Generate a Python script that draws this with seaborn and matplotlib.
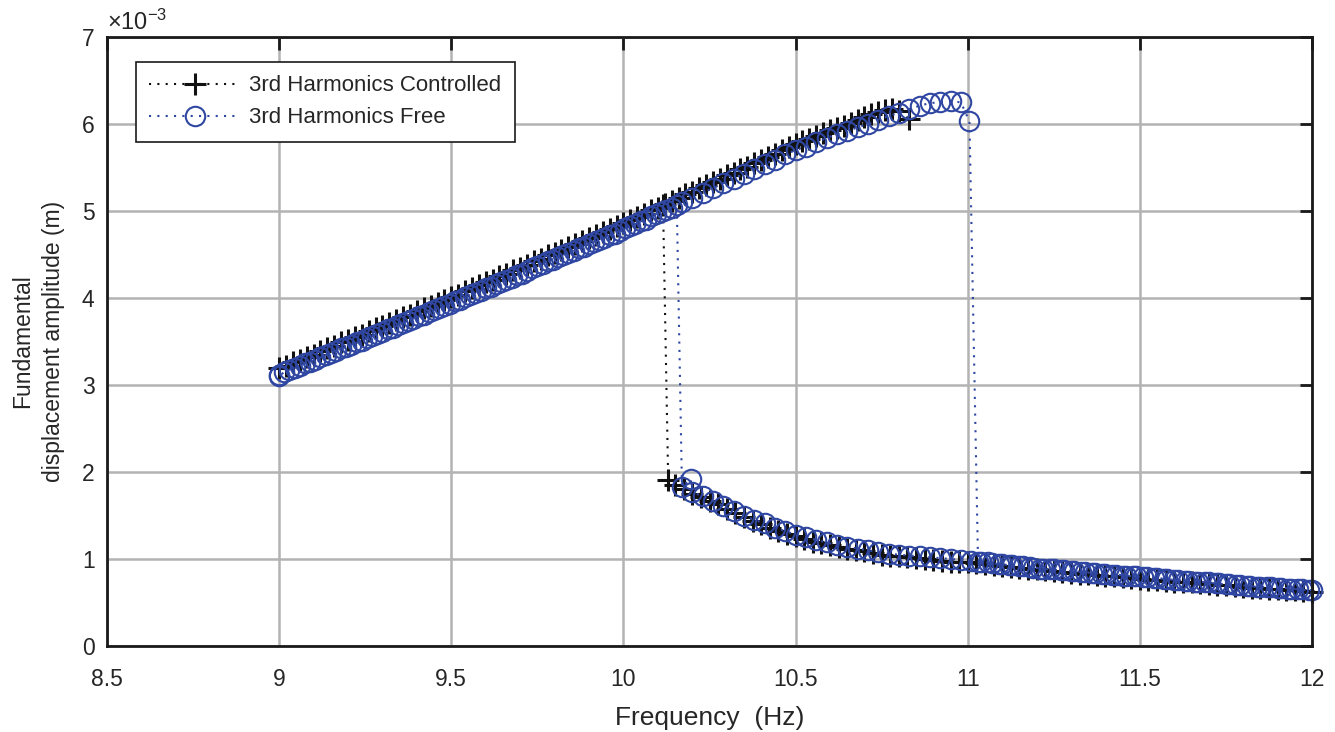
import matplotlib
matplotlib.use("Agg")
import matplotlib.pyplot as plt
from matplotlib.lines import Line2D
import seaborn as sns
import pandas as pd

# ---------------- data (amplitude in units of 1e-3 m) ----------------
# Controlled: sweep up along the upper branch
ctrl_up_freq = [9.00, 9.02, 9.04, 9.06, 9.08, 9.10, 9.12, 9.14, 9.16, 9.18, 9.20, 9.22, 9.24, 9.26,
                9.28, 9.30, 9.32, 9.34, 9.36, 9.38, 9.40, 9.42, 9.44, 9.46, 9.48, 9.50, 9.52, 9.54,
                9.56, 9.58, 9.60, 9.62, 9.64, 9.66, 9.68, 9.70, 9.72, 9.74, 9.76, 9.78, 9.80, 9.82,
                9.84, 9.86, 9.88, 9.90, 9.92, 9.94, 9.96, 9.98, 10.00, 10.02, 10.04, 10.06, 10.08,
                10.10, 10.12, 10.14, 10.16, 10.18, 10.20, 10.22, 10.24, 10.26, 10.28, 10.30, 10.32,
                10.34, 10.36, 10.38, 10.40, 10.42, 10.44, 10.46, 10.48, 10.50, 10.52, 10.54, 10.56,
                10.58, 10.60, 10.62, 10.64, 10.66, 10.68, 10.70, 10.72, 10.74, 10.76, 10.78, 10.80,
                10.83]
ctrl_up_amp = [3.19, 3.22, 3.26, 3.29, 3.32, 3.35, 3.39, 3.42, 3.45, 3.49, 3.52, 3.55, 3.58, 3.62,
               3.65, 3.68, 3.71, 3.75, 3.78, 3.81, 3.85, 3.88, 3.91, 3.94, 3.98, 4.01, 4.04, 4.08,
               4.11, 4.15, 4.18, 4.21, 4.25, 4.28, 4.32, 4.35, 4.38, 4.42, 4.45, 4.49, 4.52, 4.55,
               4.59, 4.62, 4.66, 4.69, 4.72, 4.76, 4.79, 4.83, 4.86, 4.90, 4.93, 4.97, 5.01,
               5.04, 5.08, 5.11, 5.15, 5.19, 5.22, 5.26, 5.30, 5.33, 5.37, 5.41, 5.44,
               5.48, 5.51, 5.55, 5.59, 5.62, 5.66, 5.70, 5.73, 5.77, 5.80, 5.83, 5.86,
               5.90, 5.93, 5.95, 5.98, 6.01, 6.05, 6.08, 6.11, 6.14, 6.16, 6.17, 6.15,
               6.06]

# Controlled: sweep down along the lower branch, then jump up
ctrl_down_freq = [12.000, 11.975, 11.950, 11.925, 11.900, 11.875, 11.850, 11.825, 11.800, 11.775,
                  11.750, 11.725, 11.700, 11.675, 11.650, 11.625, 11.600, 11.575, 11.550, 11.525,
                  11.500, 11.475, 11.450, 11.425, 11.400, 11.375, 11.350, 11.325, 11.300, 11.275,
                  11.250, 11.225, 11.200, 11.175, 11.150, 11.125, 11.100, 11.075, 11.050, 11.025,
                  11.000, 10.975, 10.950, 10.925, 10.900, 10.875, 10.850, 10.825, 10.800, 10.775,
                  10.750, 10.725, 10.700, 10.675, 10.650, 10.625, 10.600, 10.575, 10.550, 10.525,
                  10.500, 10.475, 10.450, 10.425, 10.400, 10.375, 10.350, 10.325, 10.300, 10.275,
                  10.250, 10.225, 10.200, 10.175, 10.150, 10.130, 10.115]
ctrl_down_amp = [0.62, 0.63, 0.64, 0.64, 0.65, 0.66, 0.67, 0.67, 0.68, 0.69,
                 0.70, 0.70, 0.71, 0.72, 0.73, 0.73, 0.74, 0.75, 0.76, 0.76,
                 0.77, 0.78, 0.79, 0.80, 0.81, 0.82, 0.83, 0.83, 0.84, 0.85,
                 0.86, 0.87, 0.88, 0.89, 0.90, 0.91, 0.92, 0.93, 0.94, 0.95,
                 0.96, 0.96, 0.97, 0.98, 0.99, 1.00, 1.01, 1.02, 1.03, 1.04,
                 1.05, 1.07, 1.09, 1.10, 1.12, 1.14, 1.16, 1.18, 1.20, 1.23,
                 1.26, 1.29, 1.32, 1.36, 1.40, 1.44, 1.48, 1.53, 1.58, 1.63,
                 1.67, 1.71, 1.75, 1.80, 1.85, 1.91, 5.07]

# Free: sweep up along the upper branch, jump down, continue on lower branch
free_up_freq = [9.00, 9.03, 9.06, 9.09, 9.12, 9.15, 9.18, 9.21, 9.24, 9.27, 9.30, 9.33, 9.36, 9.39,
                9.42, 9.45, 9.48, 9.51, 9.54, 9.57, 9.60, 9.63, 9.66, 9.69, 9.72, 9.75, 9.78, 9.81,
                9.84, 9.87, 9.90, 9.93, 9.96, 9.99, 10.02, 10.05, 10.08, 10.11, 10.14, 10.17, 10.20,
                10.23, 10.26, 10.29, 10.32, 10.35, 10.38, 10.41, 10.44, 10.47, 10.50, 10.53, 10.56,
                10.59, 10.62, 10.65, 10.68, 10.71, 10.74, 10.77, 10.80, 10.83, 10.86, 10.89, 10.92,
                10.95, 10.98, 11.005,
                11.03, 11.06, 11.09, 11.12, 11.15, 11.18, 11.21, 11.24, 11.27, 11.30, 11.33, 11.36,
                11.39, 11.42, 11.45, 11.48, 11.51, 11.54, 11.57, 11.60, 11.63, 11.66, 11.69, 11.72,
                11.75, 11.78, 11.81, 11.84, 11.87, 11.90, 11.93, 11.96, 11.99]
free_up_amp = [3.12, 3.17, 3.22, 3.27, 3.32, 3.37, 3.42, 3.46, 3.51, 3.56, 3.61, 3.66, 3.71, 3.76,
               3.81, 3.86, 3.91, 3.96, 4.01, 4.06, 4.11, 4.16, 4.21, 4.26, 4.31, 4.37, 4.42, 4.47,
               4.52, 4.57, 4.62, 4.67, 4.72, 4.77, 4.83, 4.88, 4.94, 4.99, 5.04, 5.10, 5.15,
               5.21, 5.26, 5.32, 5.37, 5.43, 5.48, 5.54, 5.59, 5.65, 5.70, 5.74, 5.79,
               5.84, 5.88, 5.92, 5.96, 6.00, 6.05, 6.09, 6.13, 6.17, 6.21, 6.24, 6.25,
               6.26, 6.25, 6.03,
               0.97, 0.96, 0.94, 0.93, 0.92, 0.91, 0.89, 0.88, 0.87, 0.86, 0.85, 0.84,
               0.83, 0.82, 0.81, 0.80, 0.79, 0.78, 0.77, 0.76, 0.75, 0.74, 0.73, 0.72,
               0.71, 0.70, 0.69, 0.68, 0.68, 0.67, 0.66, 0.65, 0.64]

# Free: sweep down along the lower branch, jump up, continue on upper branch
free_down_freq = [12.00, 11.97, 11.94, 11.91, 11.88, 11.85, 11.82, 11.79, 11.76, 11.73, 11.70, 11.67,
                  11.64, 11.61, 11.58, 11.55, 11.52, 11.49, 11.46, 11.43, 11.40, 11.37, 11.34, 11.31,
                  11.28, 11.25, 11.22, 11.19, 11.16, 11.13, 11.10, 11.07, 11.04, 11.01, 10.98, 10.95,
                  10.92, 10.89, 10.86, 10.83, 10.80, 10.77, 10.74, 10.71, 10.68, 10.65, 10.62, 10.59,
                  10.56, 10.53, 10.50, 10.47, 10.44, 10.41, 10.38, 10.35, 10.32, 10.29, 10.26, 10.23,
                  10.20, 10.195, 10.17,
                  10.155, 10.125, 10.095, 10.065, 10.035, 10.005, 9.975, 9.945, 9.915, 9.885, 9.855,
                  9.825, 9.795, 9.765, 9.735, 9.705, 9.675, 9.645, 9.615, 9.585, 9.555, 9.525, 9.495,
                  9.465, 9.435, 9.405, 9.375, 9.345, 9.315, 9.285, 9.255, 9.225, 9.195, 9.165, 9.135,
                  9.105, 9.075, 9.045, 9.015, 9.000]
free_down_amp = [0.64, 0.65, 0.66, 0.67, 0.68, 0.68, 0.69, 0.70, 0.71, 0.72, 0.73, 0.74,
                 0.75, 0.76, 0.77, 0.78, 0.79, 0.80, 0.81, 0.82, 0.83, 0.84, 0.85, 0.86,
                 0.87, 0.88, 0.89, 0.90, 0.92, 0.93, 0.94, 0.95, 0.97, 0.98, 0.99, 1.00,
                 1.01, 1.02, 1.03, 1.04, 1.05, 1.06, 1.08, 1.10, 1.12, 1.14, 1.16, 1.19,
                 1.22, 1.25, 1.28, 1.32, 1.36, 1.41, 1.45, 1.50, 1.55, 1.61, 1.67, 1.72,
                 1.77, 1.92, 1.83,
                 5.07, 5.01, 4.96, 4.90, 4.85, 4.80, 4.74, 4.69, 4.64, 4.59, 4.54,
                 4.49, 4.44, 4.39, 4.34, 4.28, 4.23, 4.18, 4.13, 4.08, 4.03, 3.98, 3.93,
                 3.89, 3.84, 3.79, 3.74, 3.69, 3.64, 3.59, 3.54, 3.49, 3.44, 3.39, 3.34,
                 3.29, 3.25, 3.20, 3.15, 3.10]

series_labels = ["3rd Harmonics Controlled", "3rd Harmonics Free"]
x_ticks = [8.5, 9, 9.5, 10, 10.5, 11, 11.5, 12]
x_tick_labels = ["8.5", "9", "9.5", "10", "10.5", "11", "11.5", "12"]
y_ticks = [0, 1, 2, 3, 4, 5, 6, 7]
y_tick_labels = ["0", "1", "2", "3", "4", "5", "6", "7"]

# ---------------- styling ----------------
sns.set_style("white")
plt.rcParams["font.family"] = ["Liberation Sans", "DejaVu Sans"]
plt.rcParams["mathtext.fontset"] = "custom"
plt.rcParams["mathtext.rm"] = "Liberation Sans"

TXT = "#262626"
SPINE = "#1a1a1a"
BLACK = "#111111"
BLUE = "#2f47a2"
GRID = "#b3b3b3"

C_MS, C_MEW = 15.5, 2.2
F_MS, F_MEW = 14.0, 1.5
LW = 1.5

fig = plt.figure(figsize=(13.35, 7.32), dpi=100)
ax = fig.add_axes([107 / 1335, 86 / 732, 1205 / 1335, 609 / 732])

ctrl_df = pd.DataFrame({
    "freq": ctrl_up_freq + ctrl_down_freq,
    "amp": ctrl_up_amp + ctrl_down_amp,
    "sweep": ["up"] * len(ctrl_up_freq) + ["down"] * len(ctrl_down_freq),
})
free_df = pd.DataFrame({
    "freq": free_up_freq + free_down_freq,
    "amp": free_up_amp + free_down_amp,
    "sweep": ["up"] * len(free_up_freq) + ["down"] * len(free_down_freq),
})

dots = (0, (1, 3))

n0 = len(ax.lines)
sns.lineplot(data=ctrl_df, x="freq", y="amp", units="sweep", estimator=None, sort=False,
             color=BLACK, ax=ax, legend=False)
ctrl_lines = ax.lines[n0:]
n1 = len(ax.lines)
sns.lineplot(data=free_df, x="freq", y="amp", units="sweep", estimator=None, sort=False,
             color=BLUE, ax=ax, legend=False)
free_lines = ax.lines[n1:]

for ln in ctrl_lines:
    ln.set_linestyle(dots)
    ln.set_linewidth(LW)
    ln.set_marker("+")
    ln.set_markersize(C_MS)
    ln.set_markeredgewidth(C_MEW)
    ln.set_markeredgecolor(BLACK)
    ln.set_clip_on(False)
for ln in free_lines:
    ln.set_linestyle(dots)
    ln.set_linewidth(LW)
    ln.set_marker("o")
    ln.set_markersize(F_MS)
    ln.set_markeredgewidth(F_MEW)
    ln.set_markeredgecolor(BLUE)
    ln.set_markerfacecolor("none")
    ln.set_clip_on(False)

ax.set_xlim(8.5, 12)
ax.set_ylim(0, 7)
ax.set_xticks(x_ticks)
ax.set_xticklabels(x_tick_labels)
ax.set_yticks(y_ticks)
ax.set_yticklabels(y_tick_labels)

ax.grid(True, color=GRID, linewidth=1.8)
ax.set_axisbelow(True)
ax.tick_params(axis="both", which="both", direction="in", top=True, right=True,
               length=9, width=2.0, color=SPINE, labelsize=16.5, labelcolor=TXT)
ax.tick_params(axis="x", pad=15.5)
ax.tick_params(axis="y", pad=9)
for sp in ax.spines.values():
    sp.set_visible(True)
    sp.set_color(SPINE)
    sp.set_linewidth(2.0)

ax.set_xlabel("Frequency  (Hz)", fontsize=19, color=TXT, labelpad=11)
ax.set_ylabel("Fundamental\ndisplacement amplitude (m)", fontsize=16.5, color=TXT,
              labelpad=12, linespacing=1.45)

ax.text(0.0, 1.012, r"$\mathregular{\times10^{-3}}$", transform=ax.transAxes,
        ha="left", va="baseline", fontsize=17, color=TXT)

handles = [
    Line2D([], [], color=BLACK, linestyle=dots, linewidth=LW, marker="+",
           markersize=C_MS, markeredgewidth=C_MEW, markeredgecolor=BLACK),
    Line2D([], [], color=BLUE, linestyle=dots, linewidth=LW, marker="o",
           markersize=F_MS, markeredgewidth=F_MEW, markeredgecolor=BLUE, markerfacecolor="none"),
]
leg = ax.legend(handles, series_labels, loc="upper left", bbox_to_anchor=(0.024, 0.959),
                borderaxespad=0, frameon=True, fancybox=False, framealpha=1,
                edgecolor=SPINE, fontsize=16, handlelength=4.1, handletextpad=0.4,
                borderpad=0.6, labelspacing=0.5, numpoints=1)
leg.get_frame().set_linewidth(1.2)
for t in leg.get_texts():
    t.set_color(TXT)

fig.savefig("out.png", dpi=100)
